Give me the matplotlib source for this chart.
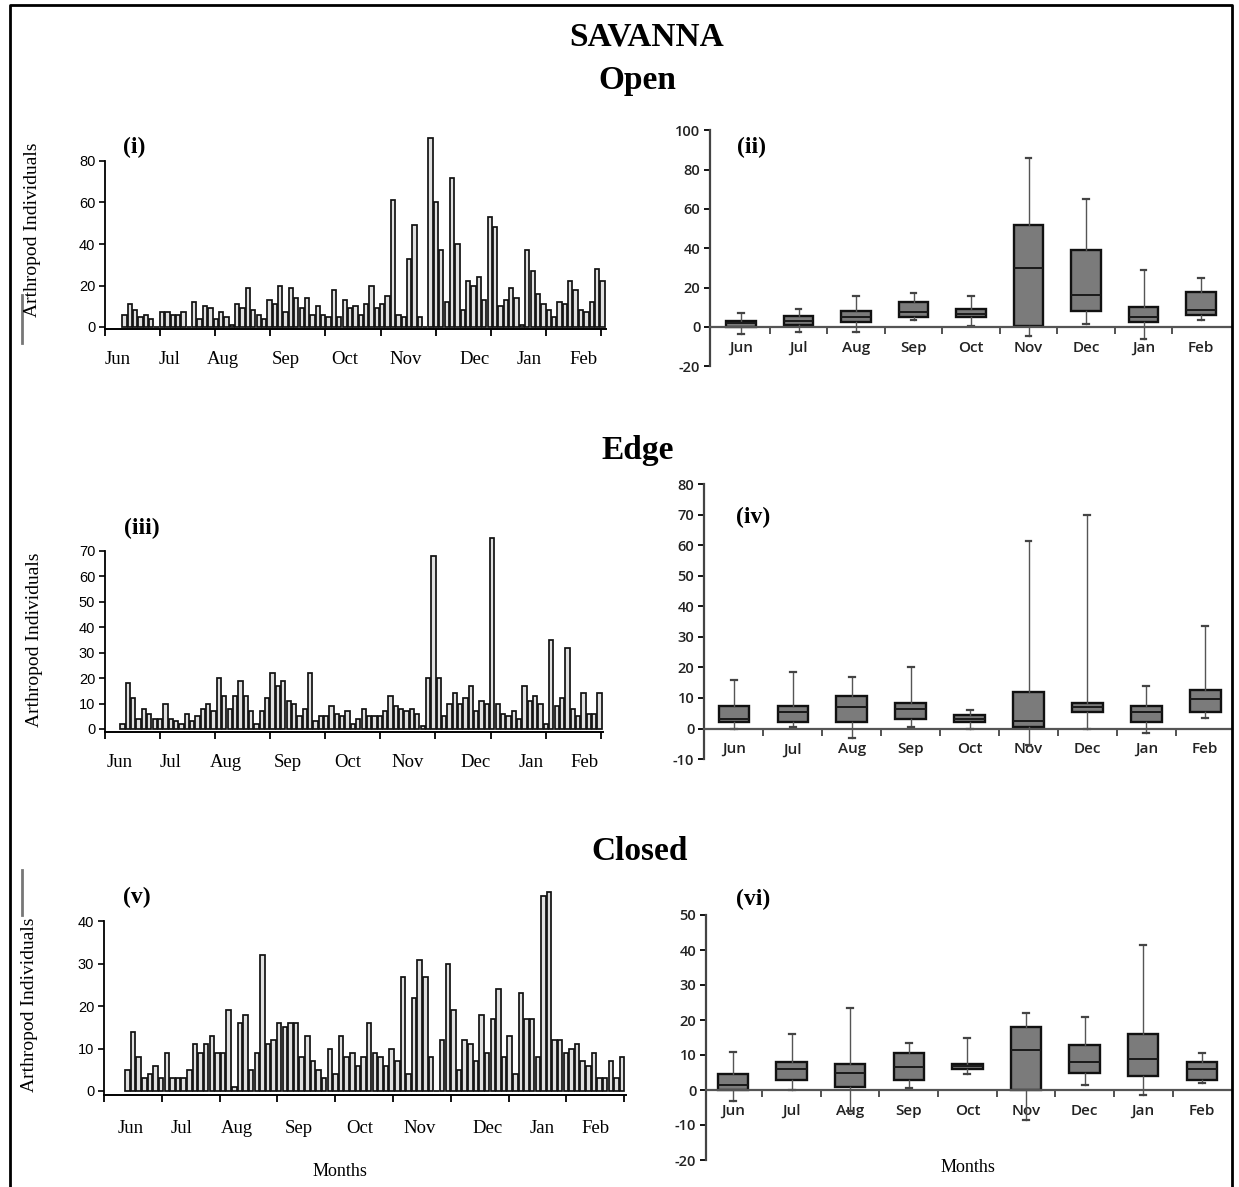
import matplotlib
matplotlib.use('Agg')
import matplotlib.pyplot as plt
import numpy as np
from matplotlib.lines import Line2D

plt.rcParams['axes.unicode_minus'] = False

# ---- data ----
months = ['Jun', 'Jul', 'Aug', 'Sep', 'Oct', 'Nov', 'Dec', 'Jan', 'Feb']

open_counts = [6, 11, 8, 5, 6, 4, 0, 7, 7, 6, 6, 7, 0, 12, 4, 10, 9, 4, 7, 5, 1, 11, 9, 19,
               8, 6, 4, 13, 11, 20, 7, 19, 14, 9, 14, 6, 10, 6, 5, 18, 5, 13,
               9, 10, 6, 11, 20, 9, 11, 15, 61, 6, 5, 33, 49, 5, 0, 91, 60, 37, 12, 72,
               40, 8, 22, 20, 24, 13, 53, 48, 10, 13, 19, 14, 1, 37, 27, 16, 11, 8, 5, 12,
               11, 22, 18, 8, 7, 12, 28, 22]

edge_counts = [2, 18, 12, 4, 8, 6, 4, 4, 10, 4, 3, 2, 6, 3, 5, 8, 10, 7, 20, 13, 8, 13, 19,
               13, 7, 2, 7, 12, 22, 17, 19, 11, 10, 5, 8, 22, 3, 5, 5, 9, 6, 5, 7, 2, 4,
               8, 5, 5, 5, 7, 13, 9, 8, 7, 8, 6, 1, 20, 68, 20, 5, 10, 14, 10, 12, 17, 7,
               11, 10, 75, 10, 6, 5, 7, 4, 17, 11, 13, 10, 2, 35, 9, 12, 32, 8, 5, 14, 6, 6, 14]

closed_counts = [5, 14, 8, 3, 4, 6, 3, 9, 3, 3, 3, 5, 11, 9, 11, 13, 9, 9, 19, 1, 16, 18, 5,
                 9, 32, 11, 12, 16, 15, 16, 16, 8, 13, 7, 5, 3, 10, 4, 13, 8, 9, 6, 8, 16,
                 9, 8, 6, 10, 7, 27, 4, 22, 31, 27, 8, 0, 12, 30, 19, 5, 12, 11, 7, 18, 9,
                 17, 24, 8, 13, 4, 23, 17, 17, 8, 46, 47, 12, 12, 9, 10, 11, 7, 6, 9, 3, 3,
                 7, 3, 8]

open_q1 = [0, 1, 2.5, 5, 5, 0.5, 8, 2.5, 6]
open_med = [2, 3, 5, 7.5, 6.5, 30, 16.5, 5, 8.5]
open_q3 = [3, 5.5, 8, 12.5, 9, 52, 39, 10, 18]
open_lo = [-3.5, -2.5, -2.5, 3.5, 0.5, -4.5, 1.5, -6, 3.5]
open_hi = [7, 9, 16, 17.5, 16, 86, 65, 29, 25]

edge_q1 = [2, 2, 2, 3, 2, 0.5, 5.5, 2, 5.5]
edge_med = [3, 5.5, 7, 6.5, 3, 2.5, 7, 5.5, 9.5]
edge_q3 = [7.5, 7.5, 10.5, 8.5, 4.5, 12, 8.5, 7.5, 12.5]
edge_lo = [0, 0.5, -3, 0.5, 0, -5.5, 0, -1.5, 3.5]
edge_hi = [16, 18.5, 17, 20, 6, 61.5, 70, 14, 33.5]

closed_q1 = [0, 3, 1, 3, 6, 0, 5, 4, 3]
closed_med = [1.5, 6, 5, 6.5, 6.8, 11.5, 8, 9, 6]
closed_q3 = [4.5, 8, 7.5, 10.5, 7.5, 18, 13, 16, 8]
closed_lo = [-3, 0, -6, 0.5, 4.5, -8.5, 1.5, -1.5, 2]
closed_hi = [11, 16, 23.5, 13.5, 15, 22, 21, 41.5, 10.5]

W, H = 1239, 1187
SERIF = ['Liberation Serif', 'DejaVu Serif']
SANS = ['Liberation Sans', 'DejaVu Sans']
BOXF = ['Open Sans', 'DejaVu Sans']

fig = plt.figure(figsize=(W / 100, H / 100), dpi=100)
fig.patch.set_facecolor('white')


def ftext(x, y, s, **kw):
    fig.text(x / W, 1 - y / H, s, ha='center', va='center', **kw)


def bar_panel(counts, p0, dp, xl, xr, y_zero, ppu, ytop, ystep, ticks_px, labs_px, pad):
    to_x = lambda px: (px - p0) / dp
    ybot = -1.0
    px_b = y_zero - ybot * ppu
    px_t = y_zero - ytop * ppu
    ax = fig.add_axes([xl / W, 1 - px_b / H, (xr - xl) / W, (px_b - px_t) / H])
    ax.bar(np.arange(len(counts)), counts, width=0.8, color='#e0e0e0',
           edgecolor='#111111', linewidth=1.25, clip_on=False)
    ax.set_xlim(to_x(xl), to_x(xr))
    ax.set_ylim(ybot, ytop)
    for s in ['top', 'right']:
        ax.spines[s].set_visible(False)
    ax.spines['left'].set_bounds(ybot, ytop)
    ax.spines['left'].set_linewidth(1.3)
    ax.spines['bottom'].set_linewidth(1.4)
    ax.set_yticks(np.arange(0, ytop + 1, ystep))
    ax.tick_params(axis='y', direction='out', length=4, width=1.2, labelsize=10.5, pad=3)
    for t in ax.get_yticklabels():
        t.set_family(SANS)
    ax.set_xticks([to_x(p) for p in ticks_px])
    ax.set_xticklabels([])
    ax.tick_params(axis='x', which='major', direction='out', length=5, width=1.3)
    ax.set_xticks([to_x(p) for p in labs_px], months, minor=True)
    ax.tick_params(axis='x', which='minor', length=0, pad=pad, labelsize=13.5)
    for t in ax.get_xticklabels(minor=True):
        t.set_family(SERIF)
    return ax


def box_panel(q1, med, q3, lo, hi, xl, c0, sp, y_zero, ppu, ylo, yhi, ystep):
    xr = 1232
    to_x = lambda px: 1 + (px - c0) / sp
    px_b = y_zero - ylo * ppu
    px_t = y_zero - yhi * ppu
    ax = fig.add_axes([xl / W, 1 - px_b / H, (xr - xl) / W, (px_b - px_t) / H])
    stats = [dict(med=m, q1=a, q3=b, whislo=l, whishi=h)
             for a, m, b, l, h in zip(q1, med, q3, lo, hi)]
    ax.bxp(stats, positions=np.arange(1, 10), widths=0.52, patch_artist=True,
           showfliers=False, capwidths=0.1,
           boxprops=dict(facecolor='#7b7b7b', edgecolor='#111111', linewidth=1.7),
           medianprops=dict(color='#1a1a1a', linewidth=1.4),
           whiskerprops=dict(color='#555555', linewidth=1.0),
           capprops=dict(color='#444444', linewidth=1.6))
    ax.set_xlim(to_x(xl), to_x(xr))
    ax.set_ylim(ylo, yhi)
    for s in ['top', 'right']:
        ax.spines[s].set_visible(False)
    ax.spines['bottom'].set_position(('data', 0))
    ax.spines['bottom'].set_color('#555555')
    ax.spines['bottom'].set_linewidth(1.6)
    ax.spines['left'].set_color('#444444')
    ax.spines['left'].set_linewidth(1.6)
    ax.set_yticks(np.arange(ylo, yhi + 1, ystep))
    ax.tick_params(axis='y', direction='out', length=4, width=1.3, labelsize=10.5, pad=3)
    ax.set_xticks(np.arange(1, 10), months)
    ax.tick_params(axis='x', which='major', length=0, pad=10, labelsize=11)
    ax.set_xticks(np.arange(1.5, 9.5, 1), minor=True)
    ax.tick_params(axis='x', which='minor', direction='out', length=5, width=1.3,
                   color='#444444')
    for t in ax.get_xticklabels() + ax.get_yticklabels():
        t.set_family(BOXF)
        t.set_fontweight('semibold')
        t.set_color('#222222')
    return ax


# open
bar_panel(open_counts, 124.4, 5.372, 105, 606, 327, 2.075, 80, 20,
          [105 + 55.1 * k for k in range(10)],
          [118, 170, 223, 286, 345, 406, 475, 529, 584], 16)
box_panel(open_q1, open_med, open_q3, open_lo, open_hi,
          710, 741, 57.5, 327, 1.967, -20, 100, 20)

# edge
bar_panel(edge_counts, 122.5, 5.36, 105, 603, 729, 2.543, 70, 10,
          [105 + 55.08 * k for k in range(10)],
          [120, 171, 226, 288, 348, 408, 476, 531, 585], 16)
box_panel(edge_q1, edge_med, edge_q3, edge_lo, edge_hi,
          704, 734, 58.9, 728.5, 3.056, -10, 80, 10)

# closed
bar_panel(closed_counts, 127.5, 5.62, 104, 626, 1091, 4.24, 40, 10,
          [104 + 57.8 * k for k in range(10)],
          [131, 182, 237, 299, 360, 420, 488, 542, 596], 18)
box_panel(closed_q1, closed_med, closed_q3, closed_lo, closed_hi,
          706, 733, 58.6, 1090, 3.5, -20, 50, 10)

# titles
for txt, x, y in [('SAVANNA', 647, 37), ('Open', 637, 80), ('Edge', 638, 450),
                  ('Closed', 640, 851)]:
    ftext(x, y, txt, fontsize=24, fontweight='bold', family=SERIF)

for txt, x, y in [('(i)', 134, 147), ('(iii)', 142, 528), ('(v)', 137, 897),
                  ('(ii)', 752, 147), ('(iv)', 753, 517), ('(vi)', 753, 899)]:
    ftext(x, y, txt, fontsize=17, fontweight='bold', family=SERIF)

for x, y in [(33, 230), (35, 640), (30, 1005)]:
    ftext(x, y, 'Arthropod Individuals', fontsize=14, rotation=90, family=SERIF)

ftext(340, 1172, 'Months', fontsize=13, family=SERIF)
ftext(968, 1168, 'Months', fontsize=13, family=SERIF)

# frame and scan marks
def fline(xs, ys, **kw):
    fig.add_artist(Line2D([x / W for x in xs], [1 - y / H for y in ys], **kw))

fline([10, 10, 1232, 1232], [1187, 5, 5, 1187], color='black', lw=2)
fline([22, 22], [295, 343], color='#777777', lw=2)
fline([22, 22], [870, 915], color='#777777', lw=2)

fig.savefig('out.png', dpi=100)
